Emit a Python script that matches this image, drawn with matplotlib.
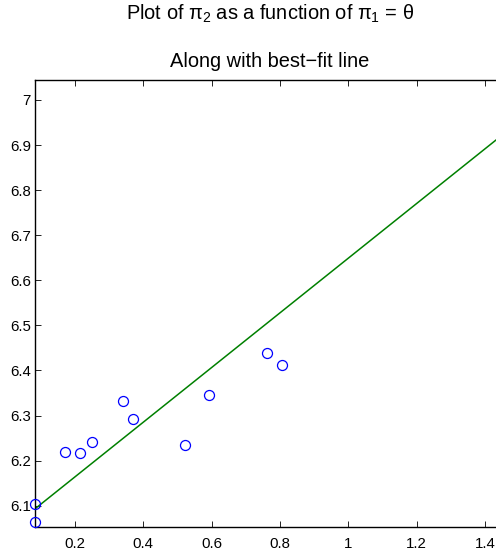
import matplotlib
matplotlib.use("Agg")
import matplotlib.pyplot as plt

plt.rcParams['font.family'] = ['Liberation Sans', 'DejaVu Sans']
plt.rcParams['mathtext.fontset'] = 'custom'
plt.rcParams['mathtext.rm'] = 'Liberation Sans'
plt.rcParams['mathtext.it'] = 'Liberation Sans'
plt.rcParams['mathtext.bf'] = 'Liberation Sans:bold'

# data
pi1 = [0.083, 0.083, 0.172, 0.216, 0.251, 0.342, 0.371, 0.523, 0.591, 0.761, 0.805]
pi2 = [6.103, 6.063, 6.218, 6.216, 6.241, 6.332, 6.293, 6.234, 6.346, 6.438, 6.411]
fit_x = [0.083, 1.5]
fit_y = [6.093, 6.952]
xticks = [0.2, 0.4, 0.6, 0.8, 1.0, 1.2, 1.4]
xtick_labels = ['0.2', '0.4', '0.6', '0.8', '1', '1.2', '1.4']
yticks = [6.1, 6.2, 6.3, 6.4, 6.5, 6.6, 6.7, 6.8, 6.9, 7.0]
ytick_labels = ['6.1', '6.2', '6.3', '6.4', '6.5', '6.6', '6.7', '6.8', '6.9', '7']
title1 = r'Plot of $\pi_2$ as a function of $\pi_1$ = $\theta$'
title2 = 'Along with best\u2212fit line'

fig = plt.figure(figsize=(4.96, 5.58), dpi=100)
ax = fig.add_axes([35/496, 31/558, 484/496, 447.3/558])

ax.plot(fit_x, fit_y, color=(0, 0.5, 0), linewidth=1.1, zorder=2)
ax.plot(pi1, pi2, linestyle='none', marker='o', markersize=7.2,
        markerfacecolor='none', markeredgecolor=(0, 0, 1), markeredgewidth=0.9,
        clip_on=False, zorder=3)

ax.set_xlim(0.083, 1.5)
ax.set_ylim(6.0527, 7.045)
ax.set_xticks(xticks)
ax.set_xticklabels(xtick_labels)
ax.set_yticks(yticks)
ax.set_yticklabels(ytick_labels)
ax.tick_params(axis='both', direction='in', length=4, width=0.6,
               top=True, right=True, labelsize=10.8, colors='black')
ax.tick_params(axis='x', pad=7)
ax.tick_params(axis='y', pad=3)
for s in ax.spines.values():
    s.set_linewidth(1.0)

fig.text(270/496, 1 - 20/558, title1, ha='center', va='baseline', fontsize=14.4)
fig.text(270/496, 1 - 67/558, title2, ha='center', va='baseline', fontsize=14.4)

fig.savefig('out.png', dpi=100)
